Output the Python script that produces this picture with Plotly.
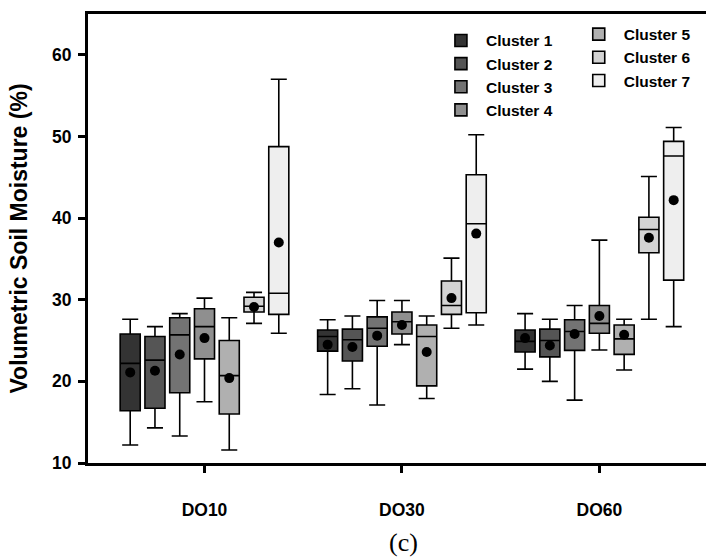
import plotly.graph_objects as go

depths = ["DO10", "DO30", "DO60"]
clusters = ["Cluster 1", "Cluster 2", "Cluster 3", "Cluster 4", "Cluster 5", "Cluster 6", "Cluster 7"]
colors = ["#333333", "#555555", "#737373", "#8f8f8f", "#b0b0b0", "#d3d3d3", "#eeeeee"]

# per cluster: values for [DO10, DO30, DO60]
lower = [[12.2, 18.4, 21.5], [14.3, 19.1, 20.0], [13.3, 17.1, 17.7], [17.5, 24.5, 23.85],
         [11.6, 17.9, 21.4], [27.1, 26.5, 27.6], [25.9, 26.9, 26.7]]
q1 = [[16.4, 23.7, 23.6], [16.7, 22.5, 23.0], [18.6, 24.3, 23.8], [22.75, 25.8, 25.9],
      [16.0, 19.45, 23.3], [28.5, 28.2, 35.75], [28.2, 28.4, 32.4]]
median = [[22.2, 25.5, 24.9], [22.6, 25.1, 25.0], [25.7, 26.5, 26.1], [26.7, 27.3, 27.1],
          [20.7, 25.5, 25.2], [29.2, 29.3, 38.6], [30.8, 39.3, 47.6]]
q3 = [[25.8, 26.3, 26.3], [25.5, 26.4, 26.4], [27.8, 27.9, 27.55], [28.9, 28.5, 29.3],
      [25.0, 26.9, 26.9], [30.3, 32.3, 40.1], [48.75, 45.3, 49.4]]
upper = [[27.6, 27.55, 28.3], [26.7, 28.0, 27.6], [28.3, 29.9, 29.3], [30.2, 29.9, 37.3],
         [27.8, 28.0, 27.6], [30.9, 35.1, 45.1], [57.0, 50.2, 51.1]]
means = [[21.1, 24.5, 25.3], [21.3, 24.2, 24.4], [23.3, 25.6, 25.8], [25.3, 26.9, 28.0],
         [20.4, 23.6, 25.7], [29.1, 30.2, 37.6], [37.0, 38.1, 42.2]]

BOXGAP = 0.122
GROUPGAP = 0.19
FONT = "Liberation Sans"

fig = go.Figure()
for i, name in enumerate(clusters):
    fig.add_trace(go.Box(
        x=depths, q1=q1[i], median=median[i], q3=q3[i],
        lowerfence=lower[i], upperfence=upper[i],
        name=name, fillcolor=colors[i],
        line=dict(color="black", width=1.6),
        whiskerwidth=0.8, boxpoints=False,
        offsetgroup=str(i),
        legend="legend" if i < 4 else "legend2",
        hoverinfo="skip",
    ))
for i, name in enumerate(clusters):
    fig.add_trace(go.Scatter(
        x=depths, y=means[i], mode="markers",
        marker=dict(color="black", size=10, symbol="circle"),
        offsetgroup=str(i), showlegend=False, hoverinfo="skip",
    ))

axis_font = dict(family=FONT, size=17.5, color="black", weight="bold")
legend_font = dict(family=FONT, size=15.5, color="black", weight="bold")
fig.update_layout(
    width=706, height=559,
    margin=dict(l=88, r=0, t=14, b=96),
    paper_bgcolor="white", plot_bgcolor="white",
    boxmode="group", boxgap=BOXGAP, boxgroupgap=GROUPGAP,
    scattermode="group", scattergap=BOXGAP,
    font=dict(family=FONT, color="black"),
    xaxis=dict(
        type="category", categoryorder="array", categoryarray=depths,
        range=[-0.59, 2.54], showline=True, linecolor="black", linewidth=3,
        mirror=True, ticks="outside", ticklen=7, tickwidth=3, tickcolor="black",
        showgrid=False, zeroline=False, tickfont=axis_font, ticklabelstandoff=22,
    ),
    yaxis=dict(
        range=[10, 65], tickvals=[10, 20, 30, 40, 50, 60],
        showline=True, linecolor="black", linewidth=3,
        ticks="outside", ticklen=7, tickwidth=3, tickcolor="black",
        showgrid=False, zeroline=False, tickfont=axis_font, ticklabelstandoff=3,
        title=dict(text="Volumetric Soil Moisture (%)",
                   font=dict(family=FONT, size=23, color="black", weight="bold"),
                   standoff=18),
    ),
    legend=dict(
        x=0.563, y=0.978, xanchor="left", yanchor="top",
        font=legend_font, bgcolor="rgba(0,0,0,0)", tracegroupgap=0, itemwidth=40,
    ),
    legend2=dict(
        x=0.786, y=0.992, xanchor="left", yanchor="top",
        font=legend_font, bgcolor="rgba(0,0,0,0)", tracegroupgap=0, itemwidth=40,
    ),
    annotations=[dict(
        text="(c)", xref="paper", yref="paper", x=0.51, y=-0.176,
        xanchor="center", yanchor="middle", showarrow=False,
        font=dict(family="Liberation Serif", size=26, color="black"),
    )],
)

fig.write_html("out.html")
